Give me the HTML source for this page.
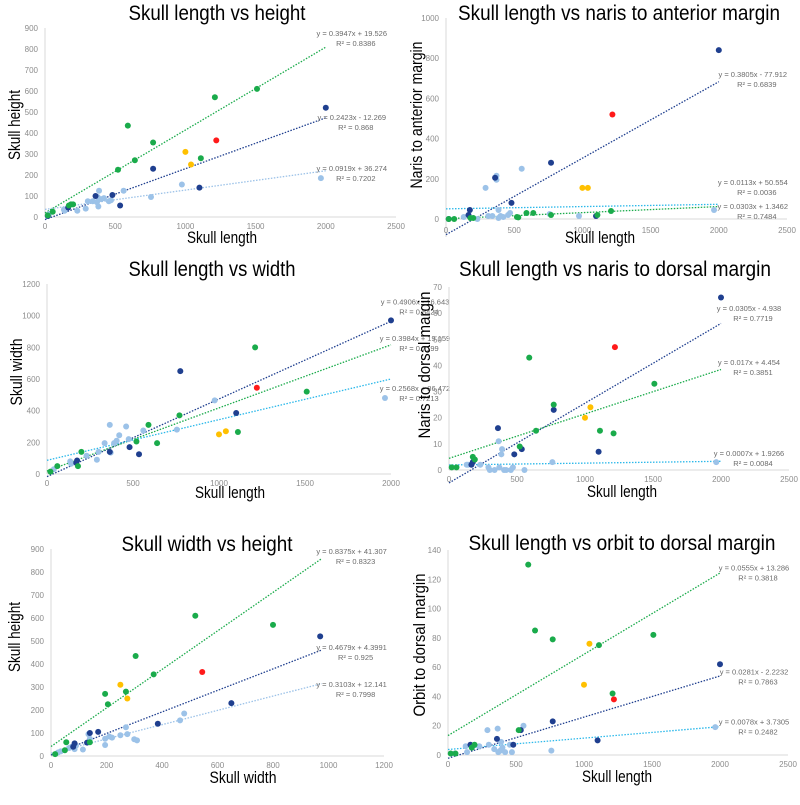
<!DOCTYPE html>
<html><head><meta charset="utf-8"><style>
body{margin:0;background:#fff;}
svg{display:block;font-family:"Liberation Sans",sans-serif;}
</style></head><body>
<svg id="fig" width="800" height="805" viewBox="0 0 800 805" xmlns="http://www.w3.org/2000/svg"></svg>
<script>
// ---------- Panel 1: Skull length vs height ----------
const p1Green=[[20,8],[55,25],[170,55],[185,60],[200,60],[520,225],[590,435],[640,270],[770,355],[1110,280],[1210,570],[1510,610]];
const p1Navy=[[20,5],[165,45],[360,100],[480,105],[535,55],[770,230],[1100,140],[2000,520]];
const p1Light=[[30,15],[135,35],[140,30],[230,30],[290,40],[305,75],[340,75],[370,70],[380,50],[385,125],[400,85],[420,90],[455,75],[470,80],[560,125],[375,95],[755,95],[975,155],[1965,185]];
const p1Red=[[1220,365]];
const p1Orange=[[1000,310],[1040,250]];
const p1Trend=[[0.3947,19.526,2000,876],[0.2423,-12.269,2000,476],[0.0919,36.274,2000,233]];
const p1Eq=["y = 0.3947x + 19.526","y = 0.2423x - 12.269","y = 0.0919x + 36.274"];
const p1R2=["R² = 0.8386","R² = 0.868","R² = 0.7202"];
const p1XTicks=[0,500,1000,1500,2000,2500];
const p1YTicks=[0,100,200,300,400,500,600,700,800,900];
// ---------- Panel 2: naris to anterior margin ----------
const p2Navy=[[20,0],[165,20],[175,45],[360,205],[480,80],[770,280],[1100,15],[2000,840]];
const p2Light=[[130,10],[290,155],[310,15],[340,15],[370,195],[370,215],[385,45],[385,5],[400,15],[420,10],[455,20],[470,30],[555,250],[760,25],[975,15],[1965,45],[230,0]];
const p2Green=[[20,0],[60,0],[180,5],[200,5],[520,10],[530,8],[590,30],[640,30],[770,20],[1110,20],[1210,40]];
const p2Red=[[1220,520]];
const p2Orange=[[1000,155],[1040,155]];
const p2Trend=[[0.3805,-77.912,2000,721],[0.0113,50.554,2000,184],[0.0303,1.3462,2000,65]];
const p2Eq=["y = 0.3805x - 77.912","y = 0.0113x + 50.554","y = 0.0303x + 1.3462"];
const p2R2=["R² = 0.6839","R² = 0.0036","R² = 0.7484"];
const p2XTicks=[0,500,1000,1500,2000,2500];
const p2YTicks=[0,200,400,600,800,1000];
// ---------- Panel 3: width ----------
const p3Navy=[[170,70],[175,85],[365,140],[480,170],[535,125],[775,650],[1100,385],[2000,970]];
const p3Light=[[40,30],[135,80],[140,65],[230,115],[290,90],[300,140],[335,195],[365,310],[370,135],[390,195],[405,210],[420,245],[460,300],[475,220],[560,275],[755,280],[975,465],[1965,480]];
const p3Green=[[20,15],[60,50],[180,50],[200,140],[520,205],[590,310],[640,195],[770,370],[1110,265],[1210,800],[1510,520]];
const p3Red=[[1220,545]];
const p3Orange=[[1000,250],[1040,270]];
const p3Trend=[[0.4906,-16.643,2000,1088],[0.3984,19.159,2000,860],[0.2568,86.472,2000,544]];
const p3Eq=["y = 0.4906x - 16.643","y = 0.3984x + 19.159","y = 0.2568x + 86.472"];
const p3R2=["R² = 0.8424","R² = 0.7199","R² = 0.7213"];
const p3XTicks=[0,500,1000,1500,2000];
const p3YTicks=[0,200,400,600,800,1000,1200];
// ---------- Panel 4: naris to dorsal margin ----------
const p4Navy=[[165,2],[175,3],[360,16],[480,6],[535,8],[770,23],[1100,7],[2000,66]];
const p4Light=[[130,2],[140,2],[230,2],[290,1],[300,0],[335,0],[365,11],[370,1],[385,6],[390,8],[405,0],[420,0],[455,0],[470,1],[555,0],[760,3],[1965,3]];
const p4Green=[[20,1],[55,1],[175,5],[190,4],[520,9],[590,43],[640,15],[770,25],[1110,15],[1210,14],[1510,33]];
const p4Red=[[1220,47]];
const p4Orange=[[1000,20],[1040,24]];
const p4Trend=[[0.0305,-4.938,2000,62],[0.017,4.454,2000,41.3],[0.0007,1.9266,2000,6.5]];
const p4Eq=["y = 0.0305x - 4.938","y = 0.017x + 4.454","y = 0.0007x + 1.9266"];
const p4R2=["R² = 0.7719","R² = 0.3851","R² = 0.0084"];
const p4XTicks=[0,500,1000,1500,2000,2500];
const p4YTicks=[0,10,20,30,40,50,60,70];
// ---------- Panel 5: width vs height ----------
const p5Green=[[15,8],[50,25],[55,60],[140,60],[195,270],[205,225],[270,280],[305,435],[370,355],[520,610],[800,570]];
const p5Navy=[[80,40],[85,55],[130,58],[140,100],[170,105],[385,140],[650,230],[970,520]];
const p5Light=[[25,15],[35,20],[65,35],[75,40],[85,30],[90,45],[115,28],[135,95],[140,75],[195,75],[195,48],[210,85],[220,80],[250,90],[270,125],[275,95],[300,73],[310,68],[465,155],[480,185]];
const p5Red=[[545,365]];
const p5Orange=[[250,310],[275,250]];
const p5Trend=[[0.8375,41.307,975,891],[0.4679,4.3991,975,474],[0.3103,12.141,975,313]];
const p5Eq=["y = 0.8375x + 41.307","y = 0.4679x + 4.3991","y = 0.3103x + 12.141"];
const p5R2=["R² = 0.8323","R² = 0.925","R² = 0.7998"];
const p5XTicks=[0,200,400,600,800,1000,1200];
const p5YTicks=[0,100,200,300,400,500,600,700,800,900];
// ---------- Panel 6: orbit to dorsal margin ----------
const p6Green=[[20,1],[55,1],[175,5],[195,7],[520,17],[590,130],[640,85],[770,79],[1110,75],[1210,42],[1510,82]];
const p6Navy=[[165,7],[360,11],[480,7],[535,17],[770,23],[1100,10],[2000,62]];
const p6Light=[[50,1],[130,6],[140,2],[230,6],[290,17],[300,7],[340,4],[365,18],[370,2],[385,3],[390,9],[400,5],[420,2],[455,7],[470,2],[555,20],[760,3],[1965,19]];
const p6Red=[[1220,38]];
const p6Orange=[[1000,48],[1040,76]];
const p6Trend=[[0.0555,13.286,2000,128],[0.0281,-2.2232,2000,57],[0.0078,3.7305,2000,23]];
const p6Eq=["y = 0.0555x + 13.286","y = 0.0281x - 2.2232","y = 0.0078x + 3.7305"];
const p6R2=["R² = 0.3818","R² = 0.7863","R² = 0.2482"];
const p6XTicks=[0,500,1000,1500,2000,2500];
const p6YTicks=[0,20,40,60,80,100,120,140];

const NS="http://www.w3.org/2000/svg";
const svg=document.getElementById('fig');
const GREEN="#1aab4b",NAVY="#1f3f8f",LIGHT="#9cc2e8",CYAN="#2bb8ea",RED="#ff1a1a",ORANGE="#ffc000";
function mk(tag,attrs,parent){const e=document.createElementNS(NS,tag);for(const k in attrs)e.setAttribute(k,attrs[k]);(parent||svg).appendChild(e);return e;}

function panel(cfg){
  const g=mk('g',{});
  
  
  const xmax=cfg.xt[cfg.xt.length-1], ymax=cfg.yt[cfg.yt.length-1];
  const sx=v=>cfg.x0+(v/xmax)*(cfg.x1-cfg.x0);
  const sy=v=>cfg.y0-(v/ymax)*(cfg.y0-cfg.y1);
  const ya=mk('line',{x1:cfg.x0,y1:cfg.y1,x2:cfg.x0,y2:cfg.yAxBottom||cfg.y0,stroke:"#d9d9d9","stroke-width":1},g);
  
  
  const xa=mk('line',{x1:cfg.x0,y1:cfg.y0,x2:cfg.x1,y2:cfg.y0,stroke:"#d9d9d9","stroke-width":1},g);
  
  
  cfg.yt.forEach(v=>{const t=mk('text',{x:cfg.x0-7,y:sy(v)+3,"text-anchor":"end","font-size":8,fill:"#8c8c8c"},g);t.textContent=v;
    
    });
  cfg.xt.forEach(v=>{const t=mk('text',{x:sx(v),y:(cfg.xLabY||cfg.y0+12),"text-anchor":"middle","font-size":8,fill:"#8c8c8c"},g);t.textContent=v;
    
    });
  const ti=mk('text',{x:cfg.tx-cfg.tw/2,y:cfg.ty,"font-size":21,fill:"#000",textLength:cfg.tw,lengthAdjust:"spacingAndGlyphs"},g);ti.textContent=cfg.title;
  
  
  const xl=mk('text',{x:cfg.xlx-cfg.xw/2,y:cfg.xly,"font-size":17,fill:"#000",textLength:cfg.xw,lengthAdjust:"spacingAndGlyphs"},g);xl.textContent=cfg.xlabel;
  
  
  const yl=mk('text',{x:-cfg.yw/2,y:0,"font-size":17,fill:"#000",textLength:cfg.yw,lengthAdjust:"spacingAndGlyphs",transform:`translate(${cfg.ylx},${cfg.yly}) rotate(-90)`},g);yl.textContent=cfg.ylabel;
  
  
  cfg.trend.forEach((tr,i)=>{
    const [m,b,xe,ly]=tr;
    const l=mk('line',{x1:sx(0),y1:sy(b),x2:sx(xe),y2:sy(m*xe+b),stroke:cfg.tcol[i],"stroke-width":1.3,"stroke-dasharray":"1.5,1.5"},g);
    
    
    const ex=sx(xe)+cfg.eqdx;
    const t1=mk('text',{x:ex,y:sy(ly)+3,"text-anchor":"middle","font-size":7.5,fill:"#6b6b6b"},g);t1.textContent=cfg.eq[i];
    
    
    const t2=mk('text',{x:ex+4,y:sy(ly)+13,"text-anchor":"middle","font-size":7.5,fill:"#6b6b6b"},g);t2.textContent=cfg.r2[i];
    
    
  });
  cfg.series.forEach(s=>{
    s.pts.forEach(p=>{
      const c=mk('circle',{cx:sx(p[0]),cy:sy(p[1]),r:3,fill:s.col},g);
      
      
    });
  });
}

panel({name:'chart-length-vs-height',x0:45,x1:396,y0:217,y1:28,xt:p1XTicks,yt:p1YTicks,title:'Skull length vs height',tx:217,tw:177,ty:20,xlabel:'Skull length',xlx:222,xw:70,xly:243,ylabel:'Skull height',yw:70,ylx:20,yly:125,
  trend:p1Trend,eq:p1Eq,r2:p1R2,tcol:[GREEN,NAVY,LIGHT],eqdx:26,
  series:[{nm:'light',pts:p1Light,col:LIGHT},{nm:'navy',pts:p1Navy,col:NAVY},{nm:'green',pts:p1Green,col:GREEN},{nm:'red',pts:p1Red,col:RED},{nm:'orange',pts:p1Orange,col:ORANGE}]});
panel({name:'chart-length-vs-naris-anterior',x0:446,x1:787,y0:219,y1:18,yAxBottom:237,xLabY:233,xt:p2XTicks,yt:p2YTicks,title:'Skull length vs naris to anterior margin',tx:619,tw:322,ty:20,xlabel:'Skull length',xlx:600,xw:70,xly:243,ylabel:'Naris to anterior margin',yw:147,ylx:422,yly:115,
  trend:p2Trend,eq:p2Eq,r2:p2R2,tcol:[NAVY,CYAN,GREEN],eqdx:34,
  series:[{nm:'light',pts:p2Light,col:LIGHT},{nm:'navy',pts:p2Navy,col:NAVY},{nm:'green',pts:p2Green,col:GREEN},{nm:'red',pts:p2Red,col:RED},{nm:'orange',pts:p2Orange,col:ORANGE}]});
panel({name:'chart-length-vs-width',x0:47,x1:391,y0:474,y1:284,xt:p3XTicks,yt:p3YTicks,title:'Skull length vs width',tx:212,tw:167,ty:276,xlabel:'Skull length',xlx:230,xw:70,xly:498,ylabel:'Skull width',yw:67,ylx:22,yly:372,
  trend:p3Trend,eq:p3Eq,r2:p3R2,tcol:[NAVY,GREEN,CYAN],eqdx:24,
  series:[{nm:'light',pts:p3Light,col:LIGHT},{nm:'navy',pts:p3Navy,col:NAVY},{nm:'green',pts:p3Green,col:GREEN},{nm:'red',pts:p3Red,col:RED},{nm:'orange',pts:p3Orange,col:ORANGE}]});
panel({name:'chart-length-vs-naris-dorsal',x0:449,x1:789,y0:470,y1:287,xt:p4XTicks,yt:p4YTicks,title:'Skull length vs naris to dorsal margin',tx:615,tw:312,ty:276,xlabel:'Skull length',xlx:622,xw:70,xly:497,ylabel:'Naris to dorsal margin',yw:147,ylx:430,yly:365,
  trend:p4Trend,eq:p4Eq,r2:p4R2,tcol:[NAVY,GREEN,CYAN],eqdx:28,
  series:[{nm:'light',pts:p4Light,col:LIGHT},{nm:'navy',pts:p4Navy,col:NAVY},{nm:'green',pts:p4Green,col:GREEN},{nm:'red',pts:p4Red,col:RED},{nm:'orange',pts:p4Orange,col:ORANGE}]});
panel({name:'chart-width-vs-height',x0:51,x1:384,y0:756,y1:549,xt:p5XTicks,yt:p5YTicks,title:'Skull width vs height',tx:207,tw:171,ty:551,xlabel:'Skull width',xlx:243,xw:67,xly:783,ylabel:'Skull height',yw:70,ylx:20,yly:637,
  trend:p5Trend,eq:p5Eq,r2:p5R2,tcol:[GREEN,NAVY,LIGHT],eqdx:30,
  series:[{nm:'light',pts:p5Light,col:LIGHT},{nm:'navy',pts:p5Navy,col:NAVY},{nm:'green',pts:p5Green,col:GREEN},{nm:'red',pts:p5Red,col:RED},{nm:'orange',pts:p5Orange,col:ORANGE}]});
panel({name:'chart-length-vs-orbit-dorsal',x0:448,x1:788,y0:755,y1:550,xt:p6XTicks,yt:p6YTicks,title:'Skull length vs orbit to dorsal margin',tx:622,tw:307,ty:550,xlabel:'Skull length',xlx:617,xw:70,xly:782,ylabel:'Orbit to dorsal margin',yw:143,ylx:425,yly:645,
  trend:p6Trend,eq:p6Eq,r2:p6R2,tcol:[GREEN,NAVY,CYAN],eqdx:34,
  series:[{nm:'light',pts:p6Light,col:LIGHT},{nm:'navy',pts:p6Navy,col:NAVY},{nm:'green',pts:p6Green,col:GREEN},{nm:'red',pts:p6Red,col:RED},{nm:'orange',pts:p6Orange,col:ORANGE}]});
</script>
</body></html>
